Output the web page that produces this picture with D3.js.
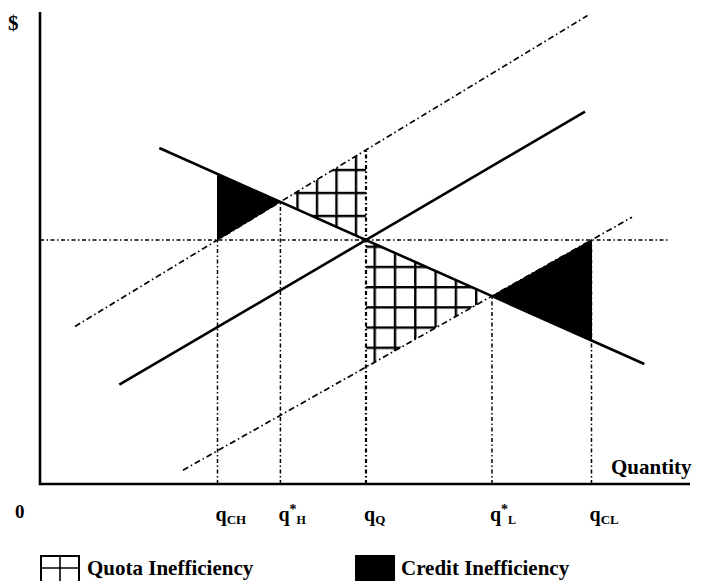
<!DOCTYPE html>
<html>
<head>
<meta charset="utf-8">
<script src="https://cdn.jsdelivr.net/npm/d3@7"></script>
<style>
  html, body { margin: 0; padding: 0; background: #fff; }
  svg { display: block; }
  text { font-family: "Liberation Serif", "Times New Roman", serif; font-weight: bold; fill: #000; }
</style>
</head>
<body>
<svg id="chart" width="703" height="581"></svg>
<script>
// ---------- data (quantity, price) ----------
const demand      = [[23.86, 84.0], [120.86, 30.0]];
const supply      = [[15.86, 24.84], [109.0, 93.1]];
const supplyHigh  = [[7.0, 39.4], [109.5, 117.1]];
const supplyLow   = [[28.6, 3.46], [118.4, 66.7]];
const priceLevel  = 61;
const priceLineEnd = 125.6;

const tickQ     = [35.5, 48.08, 65.2, 90.39, 110.3];
const tickTop   = [61, 70.53, 83.5, 46.98, 61];
const tickBase  = ["q", "q", "q", "q", "q"];
const tickSup   = ["", "*", "", "*", ""];
const tickSub   = ["CH", "H", "Q", "L", "CL"];

const quotaAreas = [
  [[48.08, 70.53], [65.2, 83.5], [65.2, 61]],
  [[65.2, 61], [65.2, 29.24], [90.39, 46.98]]
];
const creditAreas = [
  [[35.5, 61], [35.5, 77.53], [48.08, 70.53]],
  [[110.3, 61], [110.3, 35.89], [90.39, 46.98]]
];
const legendLabels = ["Quota Inefficiency", "Credit Inefficiency"];

// ---------- scales ----------
const x = d3.scaleLinear().domain([0, 130]).range([40, 690]);
const y = d3.scaleLinear().domain([0, 118]).range([484, 12]);
const line = d3.line().x(d => x(d[0])).y(d => y(d[1]));

const svg = d3.select("#chart");
const defs = svg.append("defs");

function gridPattern(id, w, h, ox, oy) {
  const sw = 2.4, o = sw / 2;
  const p = defs.append("pattern").attr("id", id)
    .attr("patternUnits", "userSpaceOnUse")
    .attr("width", w).attr("height", h)
    .attr("x", ox - o).attr("y", oy - o);
  p.append("rect").attr("width", w).attr("height", h).attr("fill", "#fff");
  p.append("line").attr("x1", o).attr("y1", 0).attr("x2", o).attr("y2", h)
    .attr("stroke", "#000").attr("stroke-width", sw);
  p.append("line").attr("x1", 0).attr("y1", o).attr("x2", w).attr("y2", o)
    .attr("stroke", "#000").attr("stroke-width", sw);
}
gridPattern("gridA", 19.5, 23, 356, 170);
gridPattern("gridB", 20.3, 20.2, 395, 267);

// ---------- areas ----------
svg.selectAll("path.quota").data(quotaAreas).enter().append("path")
  .attr("class", "quota")
  .attr("d", d => line(d) + "Z")
  .attr("fill", (d, i) => i === 0 ? "url(#gridA)" : "url(#gridB)")
  .attr("stroke", "none");

svg.selectAll("path.credit").data(creditAreas).enter().append("path")
  .attr("class", "credit")
  .attr("d", d => line(d) + "Z")
  .attr("fill", "#000").attr("stroke", "#000").attr("stroke-width", 1);

// ---------- dotted guide lines ----------
const guideDash = "4,2.5,1.5,2.5";
svg.append("path")
  .attr("d", line([[0, priceLevel], [priceLineEnd, priceLevel]]))
  .attr("stroke", "#000").attr("stroke-width", 1.4)
  .attr("stroke-dasharray", guideDash).attr("fill", "none");

svg.selectAll("path.vguide").data(tickQ).enter().append("path")
  .attr("class", "vguide")
  .attr("d", (d, i) => line([[d, 0], [d, tickTop[i]]]))
  .attr("stroke", "#000").attr("stroke-width", (d, i) => i === 2 ? 2.2 : 1.5)
  .attr("stroke-dasharray", guideDash).attr("fill", "none");

// ---------- shifted supply curves ----------
[supplyHigh, supplyLow].forEach(s => {
  svg.append("path").attr("d", line(s))
    .attr("stroke", "#000").attr("stroke-width", 1.7)
    .attr("stroke-dasharray", "6,3,1.5,3").attr("fill", "none");
});

// ---------- demand and supply ----------
[demand, supply].forEach(s => {
  svg.append("path").attr("d", line(s))
    .attr("stroke", "#000").attr("stroke-width", 2.6).attr("fill", "none");
});

// ---------- axes ----------
svg.append("path").attr("d", line([[0, 118], [0, 0], [130, 0]]))
  .attr("stroke", "#000").attr("stroke-width", 2.6).attr("fill", "none");

svg.append("text").attr("x", 8).attr("y", 30).attr("font-size", 21).text("$");
svg.append("text").attr("x", 15).attr("y", 518).attr("font-size", 19).text("0");
svg.append("text").attr("x", 611).attr("y", 474).attr("font-size", 21).text("Quantity");

// ---------- tick labels ----------
tickQ.forEach((q, i) => {
  const t = svg.append("text").attr("x", x(q) - 2).attr("y", 521).attr("font-size", 20);
  t.append("tspan").text(tickBase[i]);
  if (tickSup[i]) {
    t.append("tspan").attr("font-size", 14).attr("dy", -7).text(tickSup[i]);
    t.append("tspan").attr("font-size", 12).attr("dy", 10).text(tickSub[i]);
  } else {
    t.append("tspan").attr("font-size", 13).attr("dy", 3).text(tickSub[i]);
  }
});

// ---------- legend ----------
const lg = svg.append("g");
lg.append("rect").attr("x", 41).attr("y", 556).attr("width", 38).attr("height", 40)
  .attr("fill", "#fff").attr("stroke", "#000").attr("stroke-width", 2);
lg.append("line").attr("x1", 60).attr("y1", 556).attr("x2", 60).attr("y2", 590)
  .attr("stroke", "#000").attr("stroke-width", 1.6);
lg.append("line").attr("x1", 41).attr("y1", 568).attr("x2", 79).attr("y2", 568)
  .attr("stroke", "#000").attr("stroke-width", 1.6);
lg.append("text").attr("x", 87).attr("y", 575).attr("font-size", 21).text(legendLabels[0]);

lg.append("rect").attr("x", 355).attr("y", 555).attr("width", 40).attr("height", 40)
  .attr("fill", "#000");
lg.append("text").attr("x", 401).attr("y", 575).attr("font-size", 21).text(legendLabels[1]);
</script>
</body>
</html>
